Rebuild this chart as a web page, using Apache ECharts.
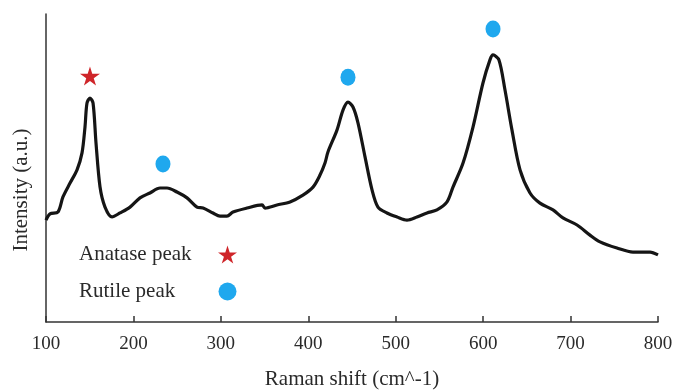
<!DOCTYPE html>
<html>
<head>
<meta charset="utf-8">
<script src="https://cdn.jsdelivr.net/npm/echarts@6/dist/echarts.min.js"></script>
<style>html,body{margin:0;padding:0;background:#fff}#c{width:674px;height:390px}</style>
</head>
<body>
<div id="c"></div>
<script>
// Raman shift (cm^-1)
var ramanShift = [100,104.6,113.7,119.4,127.5,135.5,141.2,144.6,146.9,150.3,153.8,157.2,161.8,167.5,175.5,184.6,196.1,207.5,218.9,230.4,238.4,249.8,261.3,272.7,279.6,291.0,299.0,307.0,313.9,329.9,347.1,350.5,364.2,379.1,393.9,405.4,413.4,419.1,422.5,432.8,439.7,445.4,451.1,456.9,464.9,472.9,479.7,490.0,501.5,512.9,524.3,535.8,547.2,558.7,565.5,577.0,588.4,599.8,607.8,611.3,618.1,625.0,633.0,642.2,653.6,665.0,679.9,691.3,707.4,722.2,733.7,753.1,771.4,790.9,800];
// Intensity (a.u.)
var intensity = [33.1,35.1,35.7,40.6,45.1,49.4,54.9,63.3,71.1,72.7,71.1,58.1,43.8,37.3,34.1,35.4,37.3,40.3,41.9,43.5,43.5,42.2,40.3,37.3,37.0,35.4,34.4,34.4,35.7,37.0,38.0,37.0,38.0,39.0,41.2,43.8,47.7,51.6,55.2,62.3,68.8,71.4,69.8,64.6,53.6,42.9,37.3,35.4,34.1,33.1,34.1,35.4,36.4,39.0,43.8,51.6,63.3,77.6,85.1,86.7,85.1,75.3,62.3,49.4,41.9,38.6,36.4,33.8,31.5,28.2,26.0,24.0,22.7,22.7,21.8];
// peak markers [shift, height]
var anatasePeaks = [[150.3, 79.9]];
var rutilePeaks = [[233.8, 51.3], [445.4, 79.5], [611.3, 95.1]];
var xTicks = [100, 800, 100]; // min, max, interval

var starPath = 'path://M50,0 L61,35 L98,35 L68,57 L79,91 L50,70 L21,91 L32,57 L2,35 L39,35 Z';
var FONT = '"Liberation Serif", "DejaVu Serif", serif';
var TXT = '#2a2a2a';

var curve = ramanShift.map(function (x, i) { return [x, intensity[i]]; });

var chart = echarts.init(document.getElementById('c'), null, {renderer: 'canvas'});
chart.setOption({
  animation: false,
  backgroundColor: '#fff',
  grid: {left: 46, right: 16, top: 14, bottom: 68, containLabel: false, outerBoundsMode: 'none'},
  legend: {
    orient: 'vertical',
    left: 79,
    top: 244,
    padding: 0,
    align: 'right',
    itemGap: 16,
    itemWidth: 19,
    itemHeight: 18,
    selectedMode: false,
    formatter: '{a|{name}}',
    textStyle: {
      fontFamily: FONT, fontSize: 21, color: TXT,
      rich: {a: {width: 134, lineHeight: 24, fontFamily: FONT, fontSize: 21, color: TXT, align: 'left'}}
    },
    data: [
      {name: 'Anatase peak', icon: starPath, itemStyle: {opacity: 1}},
      {name: 'Rutile peak', icon: 'circle', itemStyle: {opacity: 1}}
    ]
  },
  xAxis: {
    type: 'value',
    min: xTicks[0], max: xTicks[1], interval: xTicks[2],
    name: 'Raman shift (cm^-1)',
    nameLocation: 'middle',
    nameGap: 47,
    nameTextStyle: {fontFamily: FONT, fontSize: 21, color: TXT},
    axisLine: {show: true, lineStyle: {color: '#333', width: 1.5}},
    axisTick: {show: true, inside: true, length: 6, lineStyle: {color: '#333', width: 1.5}},
    axisLabel: {fontFamily: FONT, fontSize: 19, color: TXT, margin: 13, showMinLabel: true, showMaxLabel: true},
    splitLine: {show: false}
  },
  yAxis: {
    type: 'value',
    min: 0, max: 100,
    name: 'Intensity (a.u.)',
    nameLocation: 'middle',
    nameGap: 14,
    nameRotate: 90,
    nameTextStyle: {fontFamily: FONT, fontSize: 21, color: TXT, padding: [0, 44, 0, 0]},
    axisLine: {show: true, lineStyle: {color: '#333', width: 1.5}},
    axisTick: {show: false},
    axisLabel: {show: false},
    splitLine: {show: false}
  },
  series: [
    {
      name: 'Spectrum',
      type: 'line',
      data: curve,
      smooth: 0.3,
      showSymbol: false,
      symbol: 'none',
      lineStyle: {color: '#151515', width: 3.2},
      z: 2
    },
    {
      name: 'Anatase peak',
      type: 'scatter',
      data: anatasePeaks,
      symbol: starPath,
      symbolSize: [20, 19],
      itemStyle: {color: '#cf2529', opacity: 1},
      z: 3
    },
    {
      name: 'Rutile peak',
      type: 'scatter',
      data: rutilePeaks,
      symbol: 'circle',
      symbolSize: [15, 17],
      itemStyle: {color: '#1fa8ee', opacity: 1},
      z: 3
    }
  ]
});
</script>
</body>
</html>
